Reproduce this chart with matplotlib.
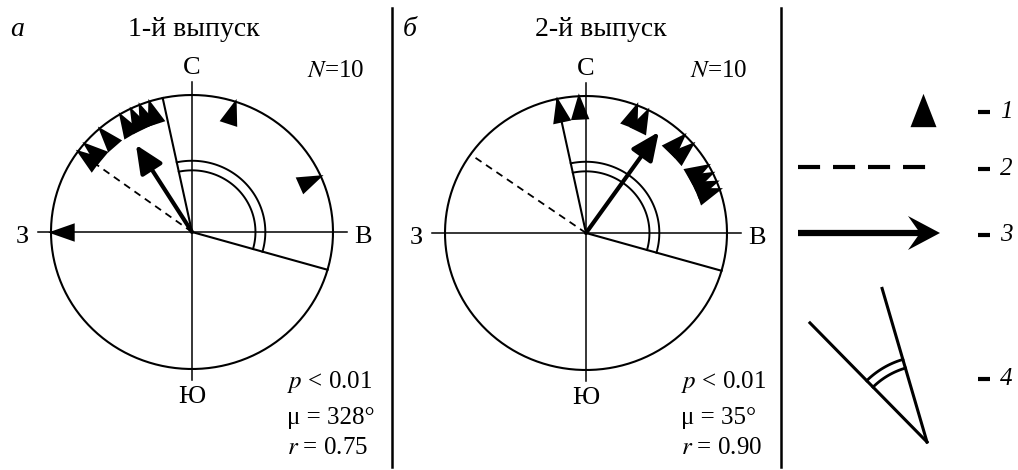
import numpy as np
import matplotlib
matplotlib.use('Agg')
import matplotlib.pyplot as plt
from matplotlib.path import Path
from matplotlib.markers import MarkerStyle
from matplotlib.transforms import Affine2D
from matplotlib.patches import Polygon

plt.rcParams['font.family'] = ['Liberation Serif', 'DejaVu Serif']
plt.rcParams['mathtext.fontset'] = 'stix'

W, H = 1018, 470
FS = 18
FS_TITLE = 20
FS_COMPASS = 19

# headings of individual animals (degrees, clockwise from north)
panel_letters = ['а', 'б']
titles = ['1-й выпуск', '2-й выпуск']
bearings_1 = [18, 66, 270, 306, 310, 319, 329, 334, 338, 342]
bearings_2 = [348, 357, 21, 26, 44, 49, 60, 64, 68, 71]
sample_sizes = [10, 10]
p_levels = ['0.01', '0.01']
mean_dirs = [328, 35]
mean_lengths = [0.75, 0.90]
dashed_dirs = [306, 305]
sector_dirs = [(348, 106), (348, 106)]
compass_labels = ['С', 'В', 'Ю', 'З']
legend_numbers = ['1', '2', '3', '4']

# panel geometry in pixels
centers = [(192, 232), (586, 233)]
RX, RY = 141, 137
L = 1.3
TRI_PX = 20


def triangle(half_width):
    return Path([(0, 1), (-half_width, -1), (half_width, -1), (0, 1)],
                [Path.MOVETO, Path.LINETO, Path.LINETO, Path.CLOSEPOLY])


tri_path = triangle(0.7)
legend_tri_path = triangle(0.78)


def pol(b, r=1.0):
    a = np.radians(b)
    return r * np.sin(a), r * np.cos(a)


def draw_compass(ax, bearings, mu, r, dashed, sector):
    t = np.linspace(0, 2 * np.pi, 400)
    ax.plot(np.sin(t), np.cos(t), color='k', lw=1.5)
    ax.plot([-1.09, 1.10], [0, 0], color='k', lw=1.1)
    ax.plot([0, 0], [-1.08, 1.095], color='k', lw=1.1)

    for b in sector:
        x, y = pol(b)
        ax.plot([0, x], [0, y], color='k', lw=1.5)
    arc = np.radians(np.linspace(sector[0], sector[1] + 360, 120))
    for rr in (0.45, 0.52):
        ax.plot(rr * np.sin(arc), rr * np.cos(arc), color='k', lw=1.4)

    x, y = pol(dashed)
    ax.plot([0, x], [0, y], color='k', lw=1.3, ls=(0, (4, 3)))

    r_tri = 1 - (TRI_PX / 2) / RY
    for b in bearings:
        ms = MarkerStyle(tri_path, transform=Affine2D().rotate_deg(-b))
        x, y = pol(b, r_tri)
        ax.plot([x], [y], ls='none', marker=ms, markersize=TRI_PX * 0.95,
                color='k', markeredgewidth=0)

    ax.annotate('', xy=pol(mu, r), xytext=(0, 0),
                arrowprops=dict(arrowstyle='-|>,head_length=1.0,head_width=0.45',
                                lw=3, color='k', shrinkA=0, shrinkB=0,
                                mutation_scale=17))

    ax.text(0, 1.197, compass_labels[0], ha='center', va='center', fontsize=FS_COMPASS)
    ax.text(1.21, -0.04, compass_labels[1], ha='center', va='center', fontsize=FS_COMPASS)
    ax.text(0, -1.205, compass_labels[2], ha='center', va='center', fontsize=FS_COMPASS)
    ax.text(-1.2, -0.04, compass_labels[3], ha='center', va='center', fontsize=FS_COMPASS)


fig = plt.figure(figsize=(W / 100, H / 100), dpi=100)

cv = fig.add_axes([0, 0, 1, 1])
cv.set_xlim(0, W)
cv.set_ylim(H, 0)
cv.axis('off')

panel_data = [bearings_1, bearings_2]
for i, (cx, cy) in enumerate(centers):
    ax = fig.add_axes([(cx - L * RX) / W, (H - cy - L * RY) / H,
                       2 * L * RX / W, 2 * L * RY / H])
    ax.set_xlim(-L, L)
    ax.set_ylim(-L, L)
    ax.axis('off')
    draw_compass(ax, panel_data[i], mean_dirs[i], mean_lengths[i],
                 dashed_dirs[i], sector_dirs[i])

# headings and statistics
letter_x = [17, 410]
title_x = [194, 601]
stat_x = [287, 681]
n_x = [307, 690]
for i in range(2):
    cv.text(letter_x[i], 36, panel_letters[i], ha='center', va='baseline',
            fontsize=FS_TITLE, style='italic')
    cv.text(title_x[i], 36, titles[i], ha='center', va='baseline',
            fontsize=FS_TITLE)
    cv.text(n_x[i], 77, r'$N$=%d' % sample_sizes[i], ha='left', va='baseline',
            fontsize=FS)
    cv.text(stat_x[i], 388, r'$p$ < %s' % p_levels[i], ha='left',
            va='baseline', fontsize=FS)
    cv.text(stat_x[i], 424, 'μ = %d°' % mean_dirs[i], ha='left',
            va='baseline', fontsize=FS)
    cv.text(stat_x[i], 454, r'$r$ = %.2f' % mean_lengths[i], ha='left',
            va='baseline', fontsize=FS)

# separators
for sx in (392, 781):
    cv.plot([sx, sx], [8, 467], color='k', lw=1.8)

# legend
item_y = [110, 167, 233, 377]
cv.plot([923], [item_y[0]], ls='none', marker=MarkerStyle(legend_tri_path),
        markersize=24, color='k', markeredgewidth=0)
cv.plot([798, 927], [item_y[1]] * 2, color='k', lw=3, ls=(0, (5.3, 3.1)))
cv.plot([798, 922], [item_y[2]] * 2, color='k', lw=4.5, solid_capstyle='butt')
cv.add_patch(Polygon([(940, item_y[2]), (908, item_y[2] - 17),
                      (920, item_y[2]), (908, item_y[2] + 17)],
                     closed=True, color='k', lw=0))

vx, vy = 927, 442
for b, ln in ((315.5, 167), (343.7, 160)):
    a = np.radians(b)
    cv.plot([vx, vx + ln * np.sin(a)], [vy, vy - ln * np.cos(a)],
            color='k', lw=2.2)
arc = np.radians(np.linspace(315.5, 343.7, 50))
for rr in (77, 86):
    cv.plot(vx + rr * np.sin(arc), vy - rr * np.cos(arc), color='k', lw=2)

for y, num in zip(item_y, legend_numbers):
    cv.plot([978, 990], [y + 2, y + 2], color='k', lw=3, solid_capstyle='butt')
    cv.text(1006, y + 2, num, ha='center', va='center', fontsize=FS,
            style='italic')

fig.savefig('out.png', dpi=100)
